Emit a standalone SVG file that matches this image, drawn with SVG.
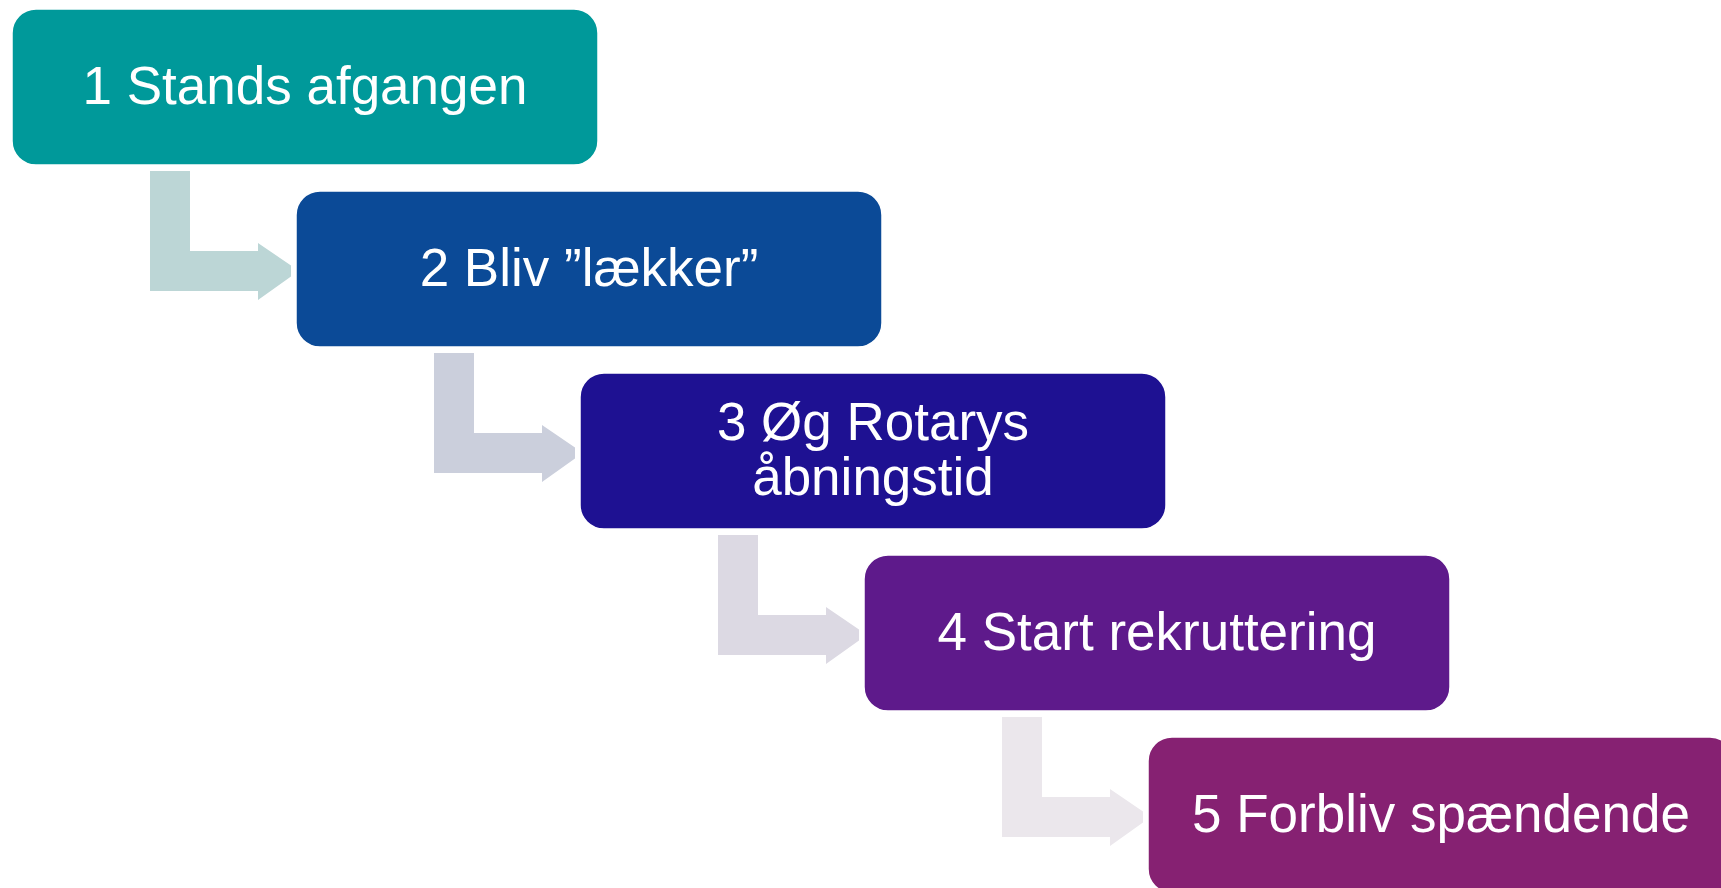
<svg xmlns="http://www.w3.org/2000/svg" width="1721" height="888" viewBox="0 0 1721 888">
<style>
.box{stroke:#ffffff;stroke-width:1.5}
.lbl{font-family:"Liberation Sans",Arial,sans-serif;font-size:53px;fill:#ffffff;text-anchor:middle}
</style>
<defs>
<polygon id="arr" points="150,171 190,171 190,251 258,251 258,243 291,265.5 291,276.5 258,300 258,291 150,291"/>
</defs>
<rect width="1721" height="888" fill="#ffffff"/>
<g id="connectors">
<use href="#arr" fill="#BCD6D6"/>
<use href="#arr" fill="#CBCFDC" transform="translate(284,182)"/>
<use href="#arr" fill="#DCD9E3" transform="translate(568,364)"/>
<use href="#arr" fill="#EBE7EC" transform="translate(852,546)"/>
</g>
<g id="node1">
<rect class="box" x="12" y="9" width="586" height="156" rx="24" fill="#00999A"/>
<text class="lbl" x="305" y="104">1 Stands afgangen</text>
</g>
<g id="node2">
<rect class="box" x="296" y="191" width="586" height="156" rx="24" fill="#0B4A97"/>
<text class="lbl" x="589" y="286">2 Bliv ”lækker”</text>
</g>
<g id="node3">
<rect class="box" x="580" y="373" width="586" height="156" rx="24" fill="#1E1192"/>
<text class="lbl" x="873" y="440">3 Øg Rotarys</text>
<text class="lbl" x="873" y="495">åbningstid</text>
</g>
<g id="node4">
<rect class="box" x="864" y="555" width="586" height="156" rx="24" fill="#5E1A8B"/>
<text class="lbl" x="1157" y="650">4 Start rekruttering</text>
</g>
<g id="node5">
<rect class="box" x="1148" y="737" width="586" height="156" rx="24" fill="#862172"/>
<text class="lbl" x="1441" y="832">5 Forbliv spændende</text>
</g>
</svg>
